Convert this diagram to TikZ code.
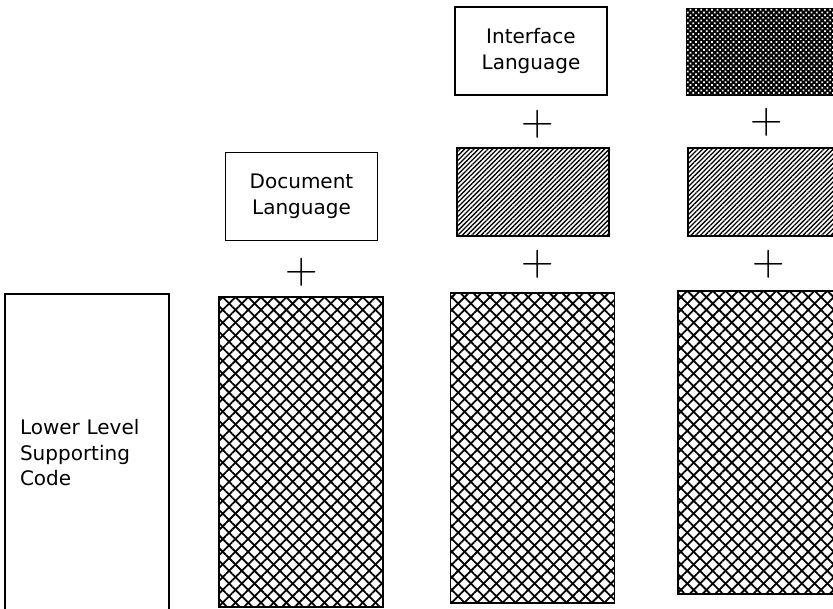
\documentclass[tikz,border=0pt]{standalone}
\usepackage{fontspec}
\newfontfamily\labelfont{DejaVu Sans}
\usepackage{tikz}
\usetikzlibrary{positioning,patterns.meta}

\tikzset{
  labelbox/.style={draw, line width=1.4pt, minimum width=152pt, minimum height=88pt,
    font=\labelfont\fontsize{20}{25.5}\selectfont, align=center},
  hatchbox/.style={draw, line width=1.4pt, minimum width=152pt, minimum height=88pt,
    pattern={Lines[angle=45,distance=3.3pt,line width=1.3pt]}},
  dotbox/.style={draw, line width=1.4pt, minimum width=152pt, minimum height=86pt,
    fill=black, postaction={pattern={Dots[distance=3.8pt,radius=1.2pt,angle=45]}, pattern color=white}},
  codebox/.style={draw, line width=1.6pt, minimum width=164pt, minimum height=310pt,
    pattern={Lines[angle=45,distance=9pt,line width=1.8pt]},
    postaction={pattern={Lines[angle=-45,distance=9pt,line width=1.8pt]}}},
  plussign/.style={inner sep=0pt, font=\fontsize{45}{45}\selectfont}
}

\begin{document}
\begin{tikzpicture}[x=1pt,y=-1pt]
\useasboundingbox (0,0) rectangle (833,609);
\clip (0,0) rectangle (833,609);

\node[labelbox, minimum width=164pt, minimum height=318pt, text width=134pt,
  inner xsep=15pt, align=left] (lowcode) at (87,453) {Lower Level\\Supporting\\Code};

\node[codebox] (docbase) at (301,452) {};
\node[plussign] (docplus) at (302,272) {+};
\node[labelbox] (doclang) at (301.5,196.5) {Document\\Language};

\node[codebox] (ifbase) at (532.5,448) {};
\node[plussign] (ifplus) at (538,264) {+};
\node[hatchbox] (ifdoc) at (533,192) {};
\node[plussign] (iftop) at (538,124) {+};
\node[labelbox] (iflang) at (531,51) {Interface\\Language};

\node[codebox, minimum height=303pt] (allbase) at (760,442.5) {};
\node[plussign] (allplus) at (769,264) {+};
\node[hatchbox] (alldoc) at (764,192) {};
\node[plussign] (alltop) at (767,122) {+};
\node[dotbox] (allif) at (763,52) {};
\end{tikzpicture}
\end{document}
